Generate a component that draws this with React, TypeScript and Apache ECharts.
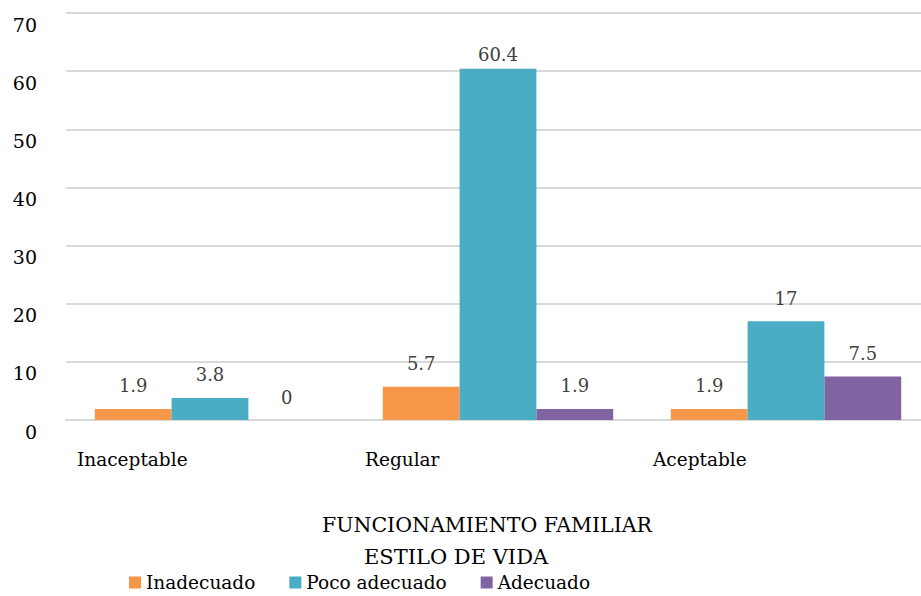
import React, { useEffect, useRef } from "react";
import * as echarts from "echarts";

const categories = ["Inaceptable", "Regular", "Aceptable"];
const seriesNames = ["Inadecuado", "Poco adecuado", "Adecuado"];
const inadecuado = [1.9, 5.7, 1.9];
const pocoAdecuado = [3.8, 60.4, 17];
const adecuado = [0, 1.9, 7.5];
const colors = ["#F79646", "#4BACC6", "#8064A2"];
const xTitle = "FUNCIONAMIENTO FAMILIAR";
const legendTitle = "ESTILO DE VIDA";

const FONT = "DejaVu Serif";

export default function App() {
  const ref = useRef<HTMLDivElement>(null);
  useEffect(() => {
    if (!ref.current) return;
    const chart = echarts.init(ref.current, null, { renderer: "svg" });
    const values = [inadecuado, pocoAdecuado, adecuado];
    chart.setOption({
      animation: false,
      textStyle: { fontFamily: FONT },
      title: {
        text: legendTitle,
        left: 359,
        top: 541,
        textStyle: { fontFamily: FONT, fontSize: 21, fontWeight: "normal", color: "#000" },
      },
      legend: {
        data: seriesNames,
        left: 124,
        top: 568,
        itemWidth: 12,
        itemHeight: 12,
        itemGap: 34,
        icon: "rect",
        textStyle: { fontFamily: FONT, fontSize: 18.5, color: "#000" },
      },
      grid: { left: 66, top: 13, width: 864, height: 407 },
      xAxis: {
        type: "category",
        data: categories,
        name: xTitle,
        nameLocation: "middle",
        nameGap: 94,
        nameTextStyle: { fontFamily: FONT, fontSize: 20.5, color: "#000", padding: [0, 22, 0, 0] },
        axisLine: { show: true, lineStyle: { color: "#D9D9D9", width: 2 } },
        axisTick: { show: false },
        axisLabel: {
          margin: 30,
          color: "#000",
          fontFamily: FONT,
          fontSize: 18.5,
          align: "center",
          formatter: (v: string) => "{a|" + v + "}",
          rich: { a: { width: 266, align: "left", fontFamily: FONT, fontSize: 18.5, color: "#000" } },
        },
      },
      yAxis: {
        type: "value",
        min: 0,
        max: 70,
        interval: 10,
        axisLine: { show: false },
        axisTick: { show: false },
        splitLine: { lineStyle: { color: "#D9D9D9", width: 2 } },
        axisLabel: {
          margin: 29,
          color: "#000",
          fontFamily: FONT,
          fontSize: 19,
          verticalAlign: "top",
          padding: [2, 0, 0, 0],
        },
      },
      series: seriesNames.map((name, i) => ({
        name,
        type: "bar",
        data: values[i].map((v) => (v > 60 ? { value: v, label: { distance: 5 } } : v)),
        barGap: "0%",
        barCategoryGap: "20%",
        itemStyle: { color: colors[i] },
        label: {
          show: true,
          position: "top",
          distance: 14,
          color: "#404040",
          fontFamily: FONT,
          fontSize: 18,
        },
      })),
    });
    return () => chart.dispose();
  }, []);
  return (
    <div style={{ position: "fixed", left: 0, top: 0, width: 921, height: 596, overflow: "hidden", background: "#fff" }}>
      <div ref={ref} style={{ width: 930, height: 596 }} />
    </div>
  );
}
